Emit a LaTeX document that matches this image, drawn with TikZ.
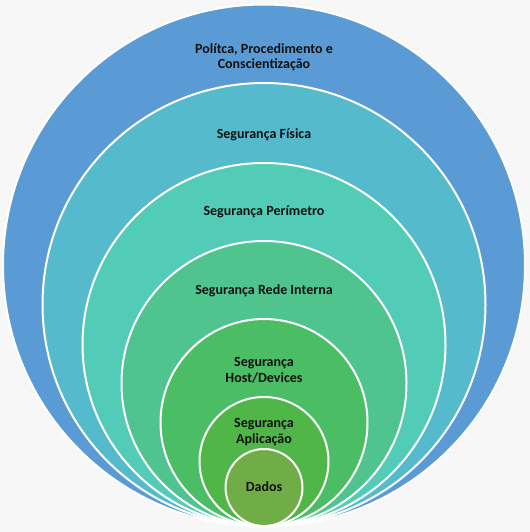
\documentclass[tikz,border=0pt]{standalone}
\usepackage{fontspec}
\setmainfont{Carlito}
\definecolor{bgc}{HTML}{F7F7F7}
\definecolor{c1}{HTML}{5B9BD5}
\definecolor{c2}{HTML}{55BBCC}
\definecolor{c3}{HTML}{52CBB7}
\definecolor{c4}{HTML}{4FC48E}
\definecolor{c5}{HTML}{4BBE65}
\definecolor{c6}{HTML}{51B648}
\definecolor{c7}{HTML}{70AD47}
\definecolor{txt}{HTML}{111111}
\begin{document}
\begin{tikzpicture}[x=0.75pt,y=-0.75pt,
  ring/.style={circle,draw=white,line width=1.5pt,inner sep=0pt,minimum size=#1},
  lbl/.style={font=\bfseries\fontsize{10.5}{11.6}\selectfont,text=txt,align=center,inner sep=0pt}]
\fill[bgc] (0,0) rectangle (530,532);
\useasboundingbox (0,0) rectangle (530,532);
\node[ring=391.5pt,fill=c1] (r1) at (264,265.5) {};
\node[ring=332.25pt,fill=c2] (r2) at (264,304.5) {};
\node[ring=272.25pt,fill=c3] (r3) at (264,344.5) {};
\node[ring=213.75pt,fill=c4] (r4) at (264,383.5) {};
\node[ring=155.25pt,fill=c5] (r5) at (264,422.5) {};
\node[ring=96.75pt,fill=c6] (r6) at (264,461.5) {};
\node[ring=57.75pt,fill=c7] (r7) at (264,487.5) {};
\node[lbl] (t1) at (264,57) {Polítca, Procedimento e\\Conscientização};
\node[lbl] (t2) at (264,135) {Segurança Física};
\node[lbl] (t3) at (264,212) {Segurança Perímetro};
\node[lbl] (t4) at (264,291) {Segurança Rede Interna};
\node[lbl] (t5) at (264,370) {Segurança\\Host/Devices};
\node[lbl] (t6) at (264,432) {Segurança\\Aplicação};
\node[lbl] (t7) at (264,487) {Dados};
\end{tikzpicture}
\end{document}
